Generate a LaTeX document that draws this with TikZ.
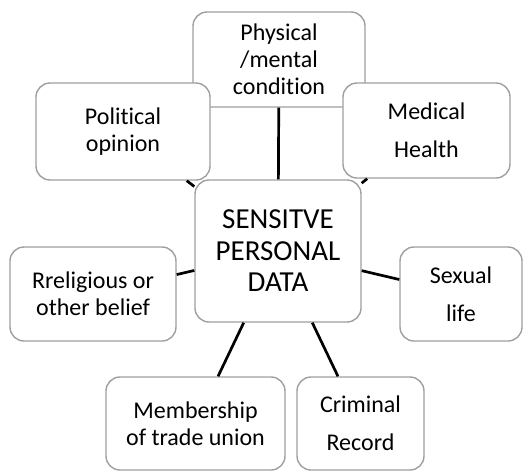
\documentclass[tikz,border=0pt]{standalone}
\usepackage{fontspec}
\setmainfont{Carlito}[Ligatures=NoCommon]
\usetikzlibrary{arrows}

\begin{document}
\begin{tikzpicture}[x=0.5pt,y=-0.5pt,
  box/.style={draw=gray!75,line width=0.7pt,rounded corners=7pt,fill=white,
    align=center,inner sep=0pt,font=\fontsize{12}{13.5}\selectfont},
  wide/.style={font=\fontsize{12}{19}\selectfont},
  link/.style={draw=black,line width=1.35pt}]
 \useasboundingbox (0,0) rectangle (530,472);

 \node[box,minimum width=86pt,minimum height=47.5pt]      (phys) at (279,59.5)   {Physical\\/mental\\condition};
 \node[box,minimum width=87pt,minimum height=48.5pt]      (pol)  at (123,131.5)  {Political\\opinion};
 \node[box,wide,minimum width=83.5pt,minimum height=47.5pt] (med) at (426.5,130.5) {Medical\\Health};
 \node[box,minimum width=83pt,minimum height=71pt,
       font=\fontsize{14.5}{15.75}\selectfont]            (data) at (278,251)    {SENSITVE\\PERSONAL\\DATA};
 \node[box,minimum width=83pt,minimum height=47pt]        (rel)  at (93,294)     {Rreligious or\\other belief};
 \node[box,wide,minimum width=61pt,minimum height=47pt]   (sex)  at (461,294)    {Sexual\\life};
 \node[box,minimum width=89.5pt,minimum height=46.5pt]    (union) at (195.5,423.5) {Membership\\of trade union};
 \node[box,wide,minimum width=63.5pt,minimum height=46.5pt] (crim) at (360.5,423.5) {Criminal\\Record};

 \path[link] (data) edge (phys)
                    edge (pol)
                    edge (med)
                    edge (rel)
                    edge (sex)
                    edge (union)
                    edge (crim);
\end{tikzpicture}
\end{document}
